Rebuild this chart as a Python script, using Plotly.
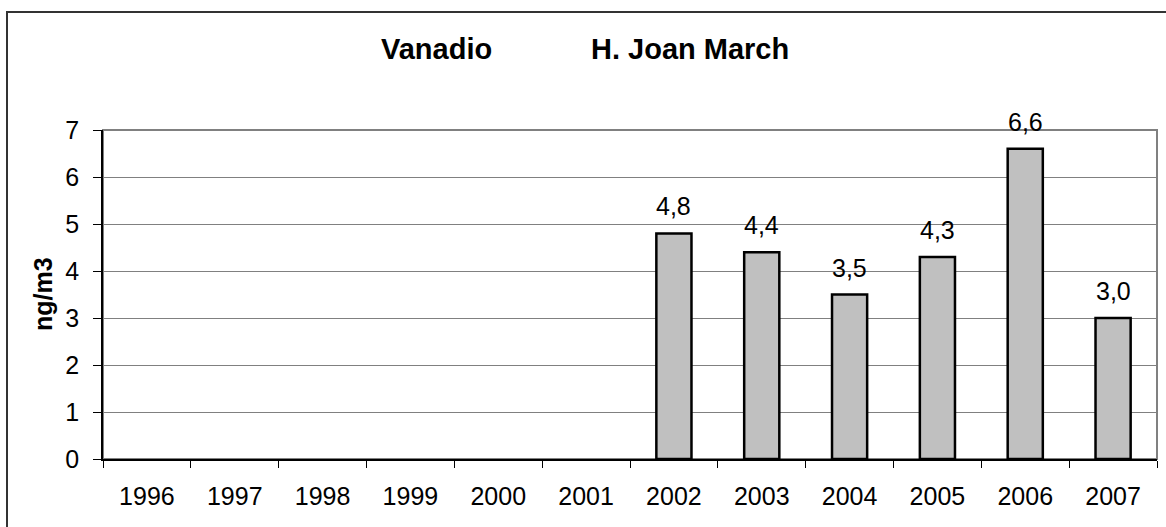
import plotly.graph_objects as go

years = ["1996", "1997", "1998", "1999", "2000", "2001", "2002", "2003", "2004", "2005", "2006", "2007"]
values = [None, None, None, None, None, None, 4.8, 4.4, 3.5, 4.3, 6.6, 3.0]
y_ticks = [0, 1, 2, 3, 4, 5, 6, 7]

W, H = 1166, 527
# plot-area edges in page pixels
L, R, T, B = 103, 1157, 130, 459
FONT = "Liberation Sans, Arial, sans-serif"


def px_x(p):
    return (p - L) / (R - L)


def px_y(p):
    return (B - p) / (B - T)


fig = go.Figure()
fig.add_trace(go.Bar(
    x=years, y=values,
    marker=dict(color="#C0C0C0", line=dict(color="#000000", width=2.5)),
    hoverinfo="skip",
))

annotations = []
for i, v in enumerate(values):
    if v is None:
        continue
    annotations.append(dict(
        x=i, y=v, xref="x", yref="y", text=f"{v:.1f}".replace(".", ","),
        showarrow=False, yanchor="bottom", yshift=11,
        font=dict(family=FONT, size=25, color="#000000"),
    ))

annotations += [
    dict(x=px_x(436), y=px_y(49), xref="paper", yref="paper", text="<b>Vanadio</b>",
         showarrow=False, xanchor="center", yanchor="middle",
         font=dict(family=FONT, size=29, color="#000000")),
    dict(x=px_x(690), y=px_y(49), xref="paper", yref="paper", text="<b>H. Joan March</b>",
         showarrow=False, xanchor="center", yanchor="middle",
         font=dict(family=FONT, size=29, color="#000000")),
    dict(x=px_x(43), y=px_y(294), xref="paper", yref="paper", text="<b>ng/m3</b>",
         showarrow=False, xanchor="center", yanchor="middle", textangle=-90,
         font=dict(family=FONT, size=25, color="#000000")),
]

shapes = [
    # outer chart border (cropped at right/bottom)
    dict(type="rect", xref="paper", yref="paper",
         x0=px_x(7), x1=px_x(1300), y0=px_y(12), y1=px_y(700),
         line=dict(color="#333333", width=2), fillcolor="rgba(0,0,0,0)", layer="below"),
    # plot area frame
    dict(type="rect", xref="paper", yref="paper", x0=0, x1=1, y0=0, y1=1,
         line=dict(color="#808080", width=2), fillcolor="rgba(0,0,0,0)", layer="below"),
]

fig.update_layout(
    width=W, height=H,
    margin=dict(l=L, r=W - R, t=T, b=H - B, autoexpand=False),
    paper_bgcolor="white", plot_bgcolor="white",
    showlegend=False,
    bargap=0.6,
    font=dict(family=FONT, size=25, color="#000000"),
    annotations=annotations,
    shapes=shapes,
    xaxis=dict(
        type="category", categoryorder="array", categoryarray=years,
        range=[-0.5, len(years) - 0.5],
        tickson="boundaries", ticks="outside", ticklen=7, tickcolor="#000000", tickwidth=1,
        showline=True, linecolor="#000000", linewidth=1.5,
        showgrid=False, ticklabelstandoff=14,
        tickfont=dict(family=FONT, size=25, color="#000000"),
    ),
    yaxis=dict(
        range=[0, 7], tickvals=y_ticks, ticks="outside", ticklen=8,
        tickcolor="#000000", tickwidth=1,
        showline=True, linecolor="#000000", linewidth=1.5,
        showgrid=True, gridcolor="#808080", gridwidth=1,
        zeroline=False, ticklabelstandoff=9,
        tickfont=dict(family=FONT, size=25, color="#000000"),
    ),
)

fig.write_html(
    "out.html",
    config={"displayModeBar": False},
    post_script="document.body.style.margin='0';document.body.style.overflow='hidden';",
)
